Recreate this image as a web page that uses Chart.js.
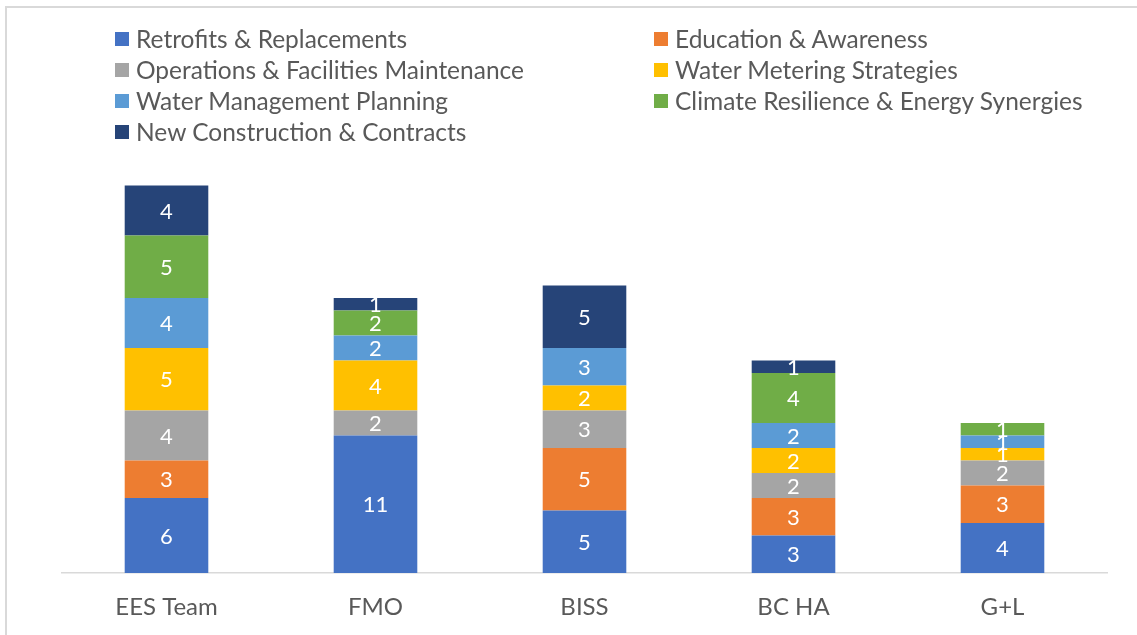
<!DOCTYPE html>
<html>
<head>
<meta charset="utf-8">
<script src="https://cdn.jsdelivr.net/npm/chart.js@4.4.1/dist/chart.umd.min.js"></script>
<style>
  html, body { margin: 0; padding: 0; background: #ffffff; }
  #wrap { position: relative; width: 1137px; height: 635px; overflow: hidden; background: #fff; }
  #frame { position: absolute; left: 5px; top: 6px; width: 1200px; height: 700px;
           border-top: 2px solid #d9d9d9; border-left: 2px solid #d9d9d9; }
  #c { position: absolute; left: 0; top: 0; }
  .lg { position: absolute; font-family: Lato, sans-serif; font-size: 24.5px; color: #595959;
        white-space: nowrap; line-height: 30px; }
  .lg span.box { position: absolute; left: 0; top: 8px; width: 14px; height: 14px; }
  .lg span.txt { position: absolute; left: 21px; top: 0; }
</style>
</head>
<body>
<div id="wrap">
  <div id="frame"></div>
  <canvas id="c" width="1137" height="635"></canvas>
  <div id="legend"></div>
</div>
<script>
const categories = ["EES Team", "FMO", "BISS", "BC HA", "G+L"];
const seriesNames = [
  "Retrofits & Replacements",
  "Education & Awareness",
  "Operations & Facilities Maintenance",
  "Water Metering Strategies",
  "Water Management Planning",
  "Climate Resilience & Energy Synergies",
  "New Construction & Contracts"
];
const retrofits      = [6, 11, 5, 3, 4];
const education      = [3, 0, 5, 3, 3];
const operations     = [4, 2, 3, 2, 2];
const metering       = [5, 4, 2, 2, 1];
const planning       = [4, 2, 3, 2, 1];
const climate        = [5, 2, 0, 4, 1];
const construction   = [4, 1, 5, 1, 0];
const seriesValues = [retrofits, education, operations, metering, planning, climate, construction];
const seriesColors = ["#4472C4", "#ED7D31", "#A5A5A5", "#FFC000", "#5B9BD5", "#70AD47", "#264478"];

// HTML legend (two columns, Excel-style order)
const legendEl = document.getElementById('legend');
seriesNames.forEach((name, i) => {
  const col = i % 2, row = Math.floor(i / 2);
  const d = document.createElement('div');
  d.className = 'lg';
  d.style.left = (col === 0 ? 115 : 654) + 'px';
  d.style.top = (23.5 + row * 31.2) + 'px';
  d.innerHTML = '<span class="box" style="background:' + seriesColors[i] + '"></span><span class="txt"></span>';
  d.querySelector('.txt').textContent = name;
  legendEl.appendChild(d);
});

const labelPlugin = {
  id: 'segLabels',
  afterDatasetsDraw(chart) {
    const ctx = chart.ctx;
    ctx.save();
    ctx.font = '22px Lato, sans-serif';
    ctx.fillStyle = '#ffffff';
    ctx.textAlign = 'center';
    ctx.textBaseline = 'middle';
    chart.data.datasets.forEach((ds, di) => {
      const meta = chart.getDatasetMeta(di);
      meta.data.forEach((el, i) => {
        const v = ds.data[i];
        if (!v) return;
        const p = el.getProps(['x', 'y', 'base'], true);
        ctx.fillText(String(v), p.x, (p.y + p.base) / 2 + 1);
      });
    });
    ctx.restore();
  }
};

new Chart(document.getElementById('c'), {
  type: 'bar',
  data: {
    labels: categories,
    datasets: seriesNames.map((n, i) => ({
      label: n,
      data: seriesValues[i],
      backgroundColor: seriesColors[i],
      borderWidth: 0,
      barPercentage: 0.4,
      categoryPercentage: 1.0
    }))
  },
  options: {
    responsive: false,
    devicePixelRatio: 1,
    animation: false,
    layout: { padding: { left: 62, right: 30, top: 173, bottom: 0 } },
    plugins: { legend: { display: false }, tooltip: { enabled: false } },
    scales: {
      x: {
        stacked: true,
        grid: { display: false, drawTicks: false },
        border: { display: true, color: '#d9d9d9', width: 1.5 },
        ticks: { color: '#595959', font: { family: 'Lato, sans-serif', size: 24 }, padding: 20 },
        afterFit(scale) { scale.height = 62; }
      },
      y: {
        stacked: true,
        display: false,
        min: 0,
        max: 32
      }
    }
  },
  plugins: [labelPlugin]
});
</script>
</body>
</html>
